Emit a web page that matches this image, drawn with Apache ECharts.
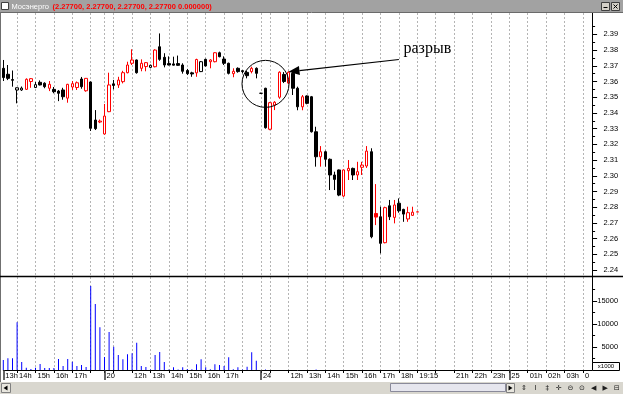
<!DOCTYPE html>
<html><head><meta charset="utf-8">
<script src="https://cdn.jsdelivr.net/npm/echarts@6/dist/echarts.min.js"></script>
<style>html,body{margin:0;padding:0;background:#fff;overflow:hidden}#c{width:623px;height:394px}</style>
</head><body><div id="c"></div>
<script>
// ---------- data ----------
const seriesName = 'Мосэнерго';
const titleValues = '(2.27700, 2.27700, 2.27700, 2.27700 0.000000)';
const annotationText = 'разрыв';

// trading sessions (15-minute slots)
const sessionDate  = ['19', '20', '24', '25'];
const sessionStart = ['13:15', '10:30', '10:30', '00:00'];
const sessionSlots = [22, 34, 54, 19];

const opens = [
  2.3684,2.3646,2.3612,2.3546,2.3546,2.3550,2.3600,2.3562,2.3595,2.3589,2.3557,2.3550,2.3539,2.3546,2.3494,2.3565,2.3562,2.3616,2.3541,2.3597,2.3355,2.3342,
  2.3266,2.3408,2.3585,2.3578,2.3599,2.3656,2.3716,2.3737,2.3684,2.3695,2.3690,2.3694,2.3821,2.3754,2.3714,2.3712,2.3714,2.3705,2.3670,2.3655,2.3655,2.3663,2.3741,2.3726,2.3726,2.3783,2.3743,2.3716,2.3650,2.3684,2.3669,2.3658,2.3663,2.3684,
  2.3525,2.3557,2.3296,2.3450,2.3500,2.3645,2.3590,2.3652,2.3557,2.3439,2.3508,2.3503,2.3280,2.3121,2.3153,2.3105,2.3005,2.3037,2.2871,2.3032,2.3047,2.3005,2.3054,2.3062,2.3153,2.2760,2.2739,2.2574,2.2809,2.2735,2.2825,2.2786,2.2725,2.2748,2.2770
];
const closes = [
  2.3625,2.3620,2.3608,2.3560,2.3558,2.3614,2.3618,2.3580,2.3578,2.3567,2.3582,2.3535,2.3525,2.3503,2.3582,2.3586,2.3592,2.3567,2.3620,2.3302,2.3300,2.3348,
  2.3380,2.3578,2.3575,2.3609,2.3656,2.3705,2.3737,2.3656,2.3716,2.3720,2.3703,2.3800,2.3741,2.3705,2.3705,2.3704,2.3703,2.3665,2.3650,2.3648,2.3740,2.3726,2.3699,2.3737,2.3783,2.3758,2.3716,2.3652,2.3665,2.3663,2.3663,2.3637,2.3684,2.3652,
  2.3525,2.3306,2.3465,2.3468,2.3659,2.3600,2.3659,2.3557,2.3439,2.3503,2.3461,2.3280,2.3121,2.3153,2.3105,2.3005,2.2977,2.2877,2.3037,2.3047,2.3005,2.3026,2.3068,2.3157,2.2612,2.2737,2.2570,2.2797,2.2739,2.2814,2.2777,2.2756,2.2765,2.2768,2.2770
];
const lows = [
  2.3603,2.3609,2.3567,2.3461,2.3540,2.3546,2.3560,2.3558,2.3575,2.3557,2.3539,2.3525,2.3475,2.3484,2.3465,2.3546,2.3546,2.3554,2.3535,2.3285,2.3291,2.3335,
  2.3262,2.3405,2.3550,2.3559,2.3588,2.3652,2.3705,2.3650,2.3665,2.3665,2.3684,2.3690,2.3732,2.3690,2.3703,2.3702,2.3700,2.3650,2.3641,2.3630,2.3630,2.3660,2.3695,2.3684,2.3722,2.3754,2.3705,2.3645,2.3627,2.3656,2.3652,2.3620,2.3652,2.3620,
  2.3522,2.3300,2.3290,2.3418,2.3490,2.3590,2.3585,2.3514,2.3417,2.3417,2.3455,2.3275,2.3058,2.3058,2.3058,2.2909,2.2909,2.2870,2.2865,2.2973,2.2973,2.2973,2.3005,2.3050,2.2602,2.2686,2.2506,2.2570,2.2718,2.2697,2.2765,2.2707,2.2707,2.2745,2.2770
];
const highs = [
  2.3737,2.3705,2.3670,2.3562,2.3568,2.3620,2.3622,2.3597,2.3607,2.3595,2.3603,2.3565,2.3546,2.3560,2.3585,2.3603,2.3600,2.3629,2.3622,2.3600,2.3418,2.3358,
  2.3457,2.3656,2.3610,2.3630,2.3668,2.3726,2.3805,2.3740,2.3741,2.3724,2.3708,2.3805,2.3906,2.3780,2.3760,2.3758,2.3765,2.3716,2.3680,2.3662,2.3745,2.3730,2.3745,2.3742,2.3786,2.3790,2.3760,2.3720,2.3684,2.3690,2.3673,2.3669,2.3694,2.3690,
  2.3528,2.3560,2.3470,2.3475,2.3665,2.3660,2.3665,2.3660,2.3567,2.3514,2.3512,2.3508,2.3312,2.3189,2.3160,2.3110,2.3026,2.3040,2.3040,2.3100,2.3052,2.3089,2.3089,2.3189,2.3175,2.2947,2.2803,2.2803,2.2846,2.2846,2.2856,2.2790,2.2803,2.2803,2.2770
];
// volume, in thousands
const volumes = [
  2170,2540,2540,10370,1740,500,220,500,1300,430,430,430,2390,870,2390,1810,870,1090,650,18260,14350,9280,
  2830,8260,5070,3260,2320,3410,3620,5940,870,650,100,3260,3910,1740,100,580,100,580,200,150,1230,2320,580,150,1230,1090,870,2750,150,580,100,720,3840,2030,
  0,100,0,0,0,0,0,0,0,0,0,0,120,0,0,0,0,0,0,0,0,0,0,0,0,0,0,0,0,0,0,0,0,0,0
];

const priceTicks = [2.24,2.25,2.26,2.27,2.28,2.29,2.30,2.31,2.32,2.33,2.34,2.35,2.36,2.37,2.38,2.39];
const priceMinorTicks = [2.245,2.255,2.265,2.275,2.285,2.295,2.305,2.315,2.325,2.335,2.345,2.355,2.365,2.375,2.385,2.395];
const volumeTicks = [5000,10000,15000];
const volumeMinorTicks = [2500,7500,12500,17500];

const tickIndex = [0,3,7,11,15,22,28,32,36,40,44,48,56,62,66,70,74,78,82,86,90,98,102,106,110,114,118,122,126];
const tickText  = ['13h','14h','15h','16h','17h','20','12h','13h','14h','15h','16h','17h','24','12h','13h','14h','15h','16h','17h','18h','19:15','21h','22h','23h','25','01h','02h','03h','0'];
const dayIndex = [0,22,56,110];

// ---------- build ----------
const categories = [];
const gridIdx = [];
sessionDate.forEach((d, s) => {
  const [h0, m0] = sessionStart[s].split(':').map(Number);
  for (let k = 0; k < sessionSlots[s]; k++) {
    const m = h0 * 60 + m0 + 15 * k;
    const mm = m % 60, hh = Math.floor(m / 60);
    if ((mm === 0 || k === 0) && categories.length > 0) gridIdx.push(categories.length);
    categories.push(d + ' ' + String(hh).padStart(2, '0') + ':' + String(mm).padStart(2, '0'));
  }
});
const gridSet = new Set(gridIdx);
const labelMap = new Map(tickIndex.map((i, k) => [i, tickText[k]]));
const daySet = new Set(dayIndex);

const RED = '#ff0000', BLACK = '#000000';
const candleData = opens.map((o, i) => {
  const c = closes[i];
  const prev = i > 0 ? closes[i - 1] : o;
  const col = c > prev ? RED : BLACK;
  return {
    value: [o, c, lows[i], highs[i]],
    itemStyle: { color: c > o ? '#ffffff' : col, color0: col, borderColor: col, borderColor0: col, borderColorDoji: col }
  };
});

const FONT = 'Liberation Sans, Arial, sans-serif';
const dashed = { show: true, interval: (i) => gridSet.has(i), lineStyle: { color: '#b4b4b4', type: [2, 2], width: 1 } };

const priceMin = 2.2362, priceMax = 2.4036;
const volMax = 20200;

const chart = echarts.init(document.getElementById('c'), null, { renderer: 'canvas' });
const option = {
  animation: false,
  backgroundColor: '#ffffff',
  grid: [
    { left: 3.3, width: 588.8, top: 13, height: 263 },
    { left: 3.3, width: 588.8, top: 277, height: 93 }
  ],
  xAxis: [
    { type: 'category', gridIndex: 0, position: 'bottom', data: categories, boundaryGap: false,
      axisLine: { show: false }, axisTick: { show: false }, axisLabel: { show: false }, splitLine: dashed },
    { type: 'category', gridIndex: 1, position: 'bottom', data: categories, boundaryGap: false,
      axisLine: { show: true, onZero: false, lineStyle: { color: '#000', width: 1 } },
      axisTick: { show: true, interval: (i) => gridSet.has(i), length: 3, lineStyle: { color: '#000' } },
      axisLabel: { show: true, interval: (i) => labelMap.has(i), formatter: (v, i) => labelMap.get(i) || '',
        align: 'left', margin: 2, padding: [0, 0, 0, 2], fontSize: 7.5, fontFamily: FONT, color: '#000' },
      splitLine: dashed },
    { type: 'category', gridIndex: 1, position: 'bottom', data: categories, boundaryGap: false,
      axisLine: { show: false, onZero: false },
      axisTick: { show: true, inside: false, interval: (i) => daySet.has(i), length: 10, lineStyle: { color: '#333', width: 1.5 } },
      axisLabel: { show: false }, splitLine: { show: false } }
  ],
  yAxis: [
    { type: 'value', gridIndex: 0, position: 'right', min: priceMin, max: priceMax,
      axisLine: { show: true, lineStyle: { color: '#000' } },
      axisTick: { show: true, customValues: priceTicks, length: 5, lineStyle: { color: '#000' } },
      axisLabel: { show: true, customValues: priceTicks, formatter: (v) => v.toFixed(2), align: 'right', margin: 26,
        fontSize: 7.5, fontFamily: FONT, color: '#000' },
      splitLine: { show: false } },
    { type: 'value', gridIndex: 0, position: 'right', min: priceMin, max: priceMax,
      axisLine: { show: false },
      axisTick: { show: true, customValues: priceMinorTicks, length: 3, lineStyle: { color: '#000' } },
      axisLabel: { show: false }, splitLine: { show: false } },
    { type: 'value', gridIndex: 1, position: 'right', min: 0, max: volMax,
      axisLine: { show: true, lineStyle: { color: '#000' } },
      axisTick: { show: true, customValues: volumeTicks, length: 5, lineStyle: { color: '#000' } },
      axisLabel: { show: true, customValues: volumeTicks, formatter: (v) => String(v), align: 'right', margin: 26,
        fontSize: 7.5, fontFamily: FONT, color: '#000' },
      splitLine: { show: false } },
    { type: 'value', gridIndex: 1, position: 'right', min: 0, max: volMax,
      axisLine: { show: false },
      axisTick: { show: true, customValues: volumeMinorTicks, length: 3, lineStyle: { color: '#000' } },
      axisLabel: { show: false }, splitLine: { show: false } }
  ],
  series: [
    { type: 'candlestick', xAxisIndex: 0, yAxisIndex: 0, data: candleData, barWidth: 3, clip: false,
      itemStyle: { borderWidth: 1 } },
    { type: 'bar', xAxisIndex: 1, yAxisIndex: 2, data: volumes, barWidth: 1,
      itemStyle: { color: '#0000ff' } }
  ]
};
chart.setOption(option);

// ---------- annotations & frame ----------
const px = (i, p) => chart.convertToPixel({ gridIndex: 0 }, [i, p]);
const circleC = px(57, 2.3585);
const tip = px(62, 2.3662);
const tail = px(86, 2.3740);
const txt = px(87, 2.3810);
const dx = tail[0] - tip[0], dy = tail[1] - tip[1], L = Math.hypot(dx, dy);
const ux = dx / L, uy = dy / L;
const hb = [tip[0] + ux * 11, tip[1] + uy * 11];
const head = [tip, [hb[0] - uy * 4.5, hb[1] + ux * 4.5], [hb[0] + uy * 4.5, hb[1] - ux * 4.5]];

const bottomIcons = ['⇕', 'I', '‡', '✛', '⊝', '⊙', '◀', '▶', '⊟'];
const graphics = [
  // title bar
  { type: 'rect', shape: { x: 0, y: 0, width: 623, height: 12 }, style: { fill: '#a2a2a2' }, z: 100 },
  { type: 'line', shape: { x1: 0, y1: 12.5, x2: 623, y2: 12.5 }, style: { stroke: '#6a6a6a', lineWidth: 1 }, z: 100 },
  { type: 'rect', shape: { x: 1.5, y: 2.5, width: 7, height: 7 }, style: { fill: '#ffffff', stroke: '#404040', lineWidth: 1 }, z: 101 },
  { type: 'text', style: { text: seriesName, x: 11.5, y: 6.5, fill: '#ffffff', font: '7.5px ' + FONT, textVerticalAlign: 'middle' }, z: 101 },
  { type: 'text', style: { text: titleValues, x: 52.5, y: 6.5, fill: '#ff0000', font: 'bold 7.5px ' + FONT, textVerticalAlign: 'middle' }, z: 101 },
  { type: 'rect', shape: { x: 601.5, y: 2.5, width: 8, height: 8 }, style: { fill: '#d4d0c8', stroke: '#404040', lineWidth: 1 }, z: 101 },
  { type: 'rect', shape: { x: 611.5, y: 2.5, width: 8, height: 8 }, style: { fill: '#d4d0c8', stroke: '#404040', lineWidth: 1 }, z: 101 },
  { type: 'line', shape: { x1: 603.5, y1: 7.5, x2: 607.5, y2: 7.5 }, style: { stroke: '#000', lineWidth: 1 }, z: 102 },
  { type: 'line', shape: { x1: 613.5, y1: 4.5, x2: 617.5, y2: 8.5 }, style: { stroke: '#000', lineWidth: 1 }, z: 102 },
  { type: 'line', shape: { x1: 617.5, y1: 4.5, x2: 613.5, y2: 8.5 }, style: { stroke: '#000', lineWidth: 1 }, z: 102 },
  // left border and panel separator
  { type: 'line', shape: { x1: 0.5, y1: 12, x2: 0.5, y2: 383 }, style: { stroke: '#707070', lineWidth: 1 }, z: 100 },
  { type: 'line', shape: { x1: 0, y1: 276.5, x2: 623, y2: 276.5 }, style: { stroke: '#000', lineWidth: 1.5 }, z: 100 },
  // x1000 box
  { type: 'rect', shape: { x: 592.5, y: 362.5, width: 27, height: 8 }, style: { fill: '#ffffff', stroke: '#000', lineWidth: 1 }, z: 100 },
  { type: 'text', style: { text: 'x1000', x: 606, y: 366.8, fill: '#000', font: '6px ' + FONT, textAlign: 'center', textVerticalAlign: 'middle' }, z: 101 },
  // bottom scroll bar
  { type: 'rect', shape: { x: 0, y: 382, width: 623, height: 12 }, style: { fill: '#d9d7cf' }, z: 100 },
  { type: 'rect', shape: { x: 1.5, y: 383.5, width: 9, height: 9 }, style: { fill: '#e8e6de', stroke: '#808080', lineWidth: 1 }, z: 101 },
  { type: 'polygon', shape: { points: [[3.5, 388], [7.5, 385.5], [7.5, 390.5]] }, style: { fill: '#000' }, z: 102 },
  { type: 'rect', shape: { x: 390.5, y: 383.5, width: 115, height: 8 }, style: { fill: '#e6e6ee', stroke: '#8a8a9a', lineWidth: 1 }, z: 101 },
  { type: 'rect', shape: { x: 506.5, y: 383.5, width: 8, height: 9 }, style: { fill: '#e8e6de', stroke: '#808080', lineWidth: 1 }, z: 101 },
  { type: 'polygon', shape: { points: [[512.5, 388], [508.5, 385.5], [508.5, 390.5]] }, style: { fill: '#000' }, z: 102 },
  ...bottomIcons.map((g, k) => ({ type: 'text', style: { text: g, x: 524 + k * 11.6, y: 388, fill: '#202020', font: '7px DejaVu Sans', textAlign: 'center', textVerticalAlign: 'middle' }, z: 102 })),
  // gap annotation
  { type: 'circle', shape: { cx: circleC[0], cy: circleC[1], r: 23.5 }, style: { fill: 'none', stroke: '#000', lineWidth: 1 }, z: 90 },
  { type: 'line', shape: { x1: hb[0], y1: hb[1], x2: tail[0], y2: tail[1] }, style: { stroke: '#000', lineWidth: 1.2 }, z: 90 },
  { type: 'polygon', shape: { points: head }, style: { fill: '#000' }, z: 90 },
  { type: 'text', style: { text: annotationText, x: txt[0], y: txt[1], fill: '#000', font: '16px Liberation Serif, serif', textVerticalAlign: 'middle' }, z: 90 }
];
chart.setOption({ graphic: graphics });
</script>
</body></html>
